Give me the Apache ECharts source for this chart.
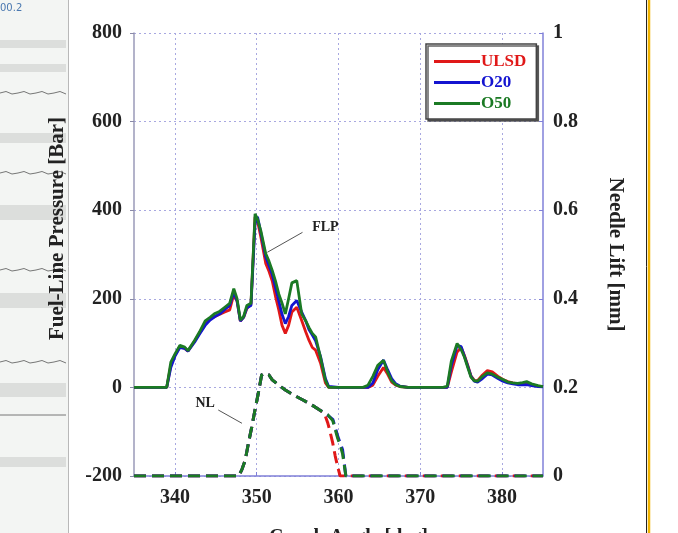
<!DOCTYPE html>
<html>
<head>
<meta charset="utf-8">
<script src="https://cdn.jsdelivr.net/npm/echarts@6/dist/echarts.min.js"></script>
<style>
html,body{margin:0;padding:0;background:#fff;}
#chart{width:678px;height:533px;}
</style>
</head>
<body>
<div id="chart"></div>
<script>
// ---- data ----
var xTicks = [340, 350, 360, 370, 380];
var seriesNames = ['ULSD', 'O20', 'O50'];
var seriesColors = ['#e01818', '#1414d0', '#1b7a24'];

var flpAngle = [335, 339, 339.5, 340, 340.6, 341.2, 341.6, 342.4, 343, 343.7, 344.3, 344.9, 345.5, 346.1, 346.7, 347.2, 347.6, 348.0, 348.4, 348.8, 349.3, 349.8, 350.1, 350.5, 351.1, 351.5, 351.9, 352.3, 352.7, 353.1, 353.5, 353.9, 354.3, 354.9, 355.5, 356.0, 356.4, 356.8, 357.2, 357.8, 358.4, 358.8, 360, 363, 363.6, 364.2, 364.8, 365.5, 366.0, 366.5, 367.0, 367.5, 368.5, 372.8, 373.3, 373.8, 374.5, 375.0, 375.4, 375.8, 376.2, 376.6, 377.0, 377.6, 378.2, 378.8, 379.5, 380.1, 380.7, 381.3, 381.9, 382.5, 383.0, 383.6, 384.4, 385];

var flpULSD = [0, 0, 50, 72, 92, 88, 82, 104, 122, 146, 155, 160, 165, 170, 175, 210, 195, 150, 158, 178, 188, 385, 375, 340, 280, 262, 240, 205, 175, 140, 122, 140, 170, 181, 151, 125, 106, 90, 84, 55, 10, 0, 0, 0, 0, 5, 25, 45, 30, 12, 5, 2, 0, 0, 0, 35, 80, 90, 72, 50, 26, 16, 15, 28, 38, 35, 25, 18, 13, 10, 8, 9, 9, 6, 3, 2];
var flpO20 = [0, 0, 45, 70, 90, 88, 82, 102, 120, 140, 152, 160, 166, 176, 185, 215, 195, 150, 158, 180, 185, 370, 385, 350, 295, 275, 255, 225, 195, 165, 144, 160, 185, 196, 170, 150, 130, 118, 105, 70, 20, 2, 0, 0, 0, 10, 40, 62, 40, 20, 8, 3, 0, 0, 0, 50, 95, 92, 70, 48, 25, 14, 12, 20, 30, 28, 20, 14, 10, 8, 6, 6, 6, 4, 2, 1];
var flpO50 = [0, 0, 57, 75, 95, 91, 83, 106, 125, 150, 158, 167, 172, 181, 190, 223, 200, 152, 160, 185, 190, 392, 380, 354, 302, 285, 264, 240, 211, 190, 166, 200, 236, 241, 166, 150, 135, 122, 114, 68, 16, 0, 0, 0, 5, 25, 50, 61, 35, 15, 6, 2, 0, 0, 3, 60, 99, 85, 68, 45, 23, 15, 14, 25, 33, 30, 23, 18, 12, 10, 9, 11, 13, 8, 4, 2];

var nlAngle = [335, 347.8, 348.2, 348.6, 349.0, 349.4, 349.8, 350.2, 350.6, 350.9, 351.1, 351.5, 351.9, 352.7, 353.5, 354.5, 355.6, 356.6, 357.7, 358.3, 358.7, 358.9, 359.3, 359.6, 359.9, 360.2, 360.5, 360.9, 385];
var nlULSD = [0, 0, 0.015, 0.036, 0.075, 0.111, 0.15, 0.187, 0.228, 0.232, 0.235, 0.228, 0.217, 0.205, 0.194, 0.183, 0.172, 0.162, 0.149, 0.14, 0.119, 0.105, 0.074, 0.045, 0.021, 0, 0, 0, 0];
var nlO20 = [0, 0, 0.015, 0.036, 0.075, 0.111, 0.15, 0.187, 0.228, 0.232, 0.235, 0.228, 0.217, 0.205, 0.194, 0.183, 0.172, 0.162, 0.149, 0.142, 0.137, 0.134, 0.128, 0.11, 0.09, 0.075, 0.059, 0, 0];
var nlO50 = [0, 0, 0.015, 0.036, 0.075, 0.111, 0.15, 0.187, 0.228, 0.232, 0.235, 0.228, 0.217, 0.205, 0.194, 0.183, 0.172, 0.162, 0.149, 0.142, 0.138, 0.134, 0.125, 0.105, 0.085, 0.07, 0.05, 0, 0];

// annotation anchors (data units)
var flpLeader = [[355.6, 350], [351.3, 305]];
var flpText = [358.4, 361];
var nlLeader = [[345.3, 0.149], [348.2, 0.119]];
var nlText = [343.7, 0.163];

function pairs(xs, ys) { return xs.map(function (x, i) { return [x, ys[i]]; }); }

var FONT = '"Liberation Serif", "DejaVu Serif", serif';
var AXIS_COLOR = '#8080d8';
var GRID_COLOR = '#a8a8e0';

var flpData = [flpULSD, flpO20, flpO50];
var nlData = [nlULSD, nlO20, nlO50];

var series = [];
flpData.forEach(function (vals, i) {
  var s = {
    name: seriesNames[i], type: 'line', xAxisIndex: 0, yAxisIndex: 0,
    data: pairs(flpAngle, vals), showSymbol: false, symbol: 'none',
    lineStyle: { color: seriesColors[i], width: 2.8 }, itemStyle: { color: seriesColors[i] },
    z: 3 + i
  };
  if (i === 2) {
    s.markLine = {
      silent: true, symbol: ['none', 'none'], animation: false,
      lineStyle: { color: '#555', width: 1, type: 'solid' }, label: { show: false },
      data: [[{ coord: flpLeader[0] }, { coord: flpLeader[1] }]]
    };
    s.markPoint = {
      silent: true, symbol: 'circle', symbolSize: 0, animation: false,
      label: { show: true, formatter: 'FLP', color: '#222', fontFamily: FONT, fontWeight: 'bold', fontSize: 14 },
      data: [{ coord: flpText }]
    };
  }
  series.push(s);
});
nlData.forEach(function (vals, i) {
  var s = {
    name: seriesNames[i] + ' NL', type: 'line', xAxisIndex: 0, yAxisIndex: 1,
    data: pairs(nlAngle, vals), showSymbol: false, symbol: 'none',
    lineStyle: { color: seriesColors[i], width: 3, type: [12, 6] }, itemStyle: { color: seriesColors[i] },
    z: 3 + i
  };
  if (i === 2) {
    s.markLine = {
      silent: true, symbol: ['none', 'none'], animation: false,
      lineStyle: { color: '#555', width: 1, type: 'solid' }, label: { show: false },
      data: [[{ coord: nlLeader[0] }, { coord: nlLeader[1] }]]
    };
    s.markPoint = {
      silent: true, symbol: 'circle', symbolSize: 0, animation: false,
      label: { show: true, formatter: 'NL', color: '#222', fontFamily: FONT, fontWeight: 'bold', fontSize: 14 },
      data: [{ coord: nlText }]
    };
  }
  series.push(s);
});

var chart = echarts.init(document.getElementById('chart'), null, { renderer: 'canvas' });

// decorative screenshot surroundings
var bands = [[40, 8], [64, 8], [133, 10], [205, 15], [293, 15], [383, 14], [457, 10]];
var graphics = [
  { type: 'rect', left: 0, top: 0, shape: { width: 68, height: 533 }, style: { fill: '#f3f5f3' }, silent: true, z: -10 },
  { type: 'line', shape: { x1: 68.5, y1: 0, x2: 68.5, y2: 533 }, style: { stroke: '#b8b8b8', lineWidth: 1 }, silent: true, z: -9 },
  { type: 'text', left: 0, top: 3, style: { text: '00.2', fill: '#4a78b0', font: '10px "DejaVu Sans"' }, silent: true },
  { type: 'line', shape: { x1: 646.5, y1: 0, x2: 646.5, y2: 533 }, style: { stroke: '#222', lineWidth: 1 }, silent: true },
  { type: 'line', shape: { x1: 649, y1: 0, x2: 649, y2: 533 }, style: { stroke: '#f2b400', lineWidth: 2.5 }, silent: true }
];
bands.forEach(function (b) {
  graphics.push({ type: 'rect', shape: { x: 0, y: b[0], width: 66, height: b[1] }, style: { fill: '#dcdedc' }, silent: true, z: -8 });
});
[[93, 1], [173, 1], [270, 1], [362, 1]].forEach(function (w) {
  var pts = [];
  for (var k = 0; k <= 11; k++) { pts.push([k * 6, w[0] + ((k % 3 === 1) ? -1.5 : (k % 3 === 2 ? 1 : 0))]); }
  graphics.push({ type: 'polyline', shape: { points: pts }, style: { stroke: '#555', lineWidth: 0.8, fill: null }, silent: true, z: -7 });
});
graphics.push({ type: 'line', shape: { x1: 0, y1: 415, x2: 66, y2: 415 }, style: { stroke: '#555', lineWidth: 0.8 }, silent: true, z: -7 });

var option = {
  animation: false,
  backgroundColor: '#ffffff',
  graphic: graphics,
  grid: { left: 134, right: 135, top: 33, bottom: 57, show: false, containLabel: false, outerBoundsMode: 'none' },
  legend: {
    data: seriesNames.map(function (n, i) { return { name: n, textStyle: { color: seriesColors[i] } }; }),
    orient: 'vertical', left: 426, top: 44,
    icon: 'rect', itemWidth: 46, itemHeight: 3, itemGap: 4,
    padding: [9, 10, 7, 8],
    backgroundColor: '#fff', borderColor: '#444', borderWidth: 1.5, borderRadius: 0,
    shadowColor: 'rgba(60,60,60,0.8)', shadowBlur: 0, shadowOffsetX: 2, shadowOffsetY: 2,
    textStyle: { fontFamily: FONT, fontWeight: 'bold', fontSize: 17, padding: [0, 0, 0, -4] },
    selectedMode: false
  },
  xAxis: {
    type: 'value', min: 335, max: 385,
    name: 'Crank Angle [deg]', nameLocation: 'middle', nameGap: 52,
    nameTextStyle: { fontFamily: FONT, fontWeight: 'bold', fontSize: 20, color: '#222', padding: [0, 0, 0, 20] },
    axisLine: { show: true, onZero: false, lineStyle: { color: AXIS_COLOR, width: 1.5 } },
    axisTick: { show: true, inside: true, length: 4, customValues: xTicks, lineStyle: { color: AXIS_COLOR } },
    axisLabel: { customValues: xTicks, margin: 12, fontFamily: FONT, fontWeight: 'bold', fontSize: 20, color: '#222' },
    splitLine: { show: true, lineStyle: { color: GRID_COLOR, type: [2, 3], width: 1 } }
  },
  yAxis: [
    {
      type: 'value', min: -200, max: 800, interval: 200, position: 'left',
      name: 'Fuel-Line Pressure [Bar]', nameLocation: 'middle', nameGap: 66, nameRotate: 90,
      nameTextStyle: { fontFamily: FONT, fontWeight: 'bold', fontSize: 21, color: '#222', padding: [0, 0, 0, 52] },
      axisLine: { show: true, lineStyle: { color: '#9a9ab8', width: 1.5 } },
      axisTick: { show: true, inside: false, length: 4, lineStyle: { color: '#8a8aa8' } },
      axisLabel: { margin: 12, fontFamily: FONT, fontWeight: 'bold', fontSize: 20, color: '#222' },
      splitLine: { show: true, lineStyle: { color: GRID_COLOR, type: [2, 3], width: 1 } }
    },
    {
      type: 'value', min: 0, max: 1, interval: 0.2, position: 'right',
      name: 'Needle Lift [mm]', nameLocation: 'middle', nameGap: 62, nameRotate: -90,
      nameTextStyle: { fontFamily: FONT, fontWeight: 'bold', fontSize: 21, color: '#222' },
      axisLine: { show: true, lineStyle: { color: AXIS_COLOR, width: 1.5 } },
      axisTick: { show: true, inside: true, length: 4, lineStyle: { color: AXIS_COLOR } },
      axisLabel: { margin: 10, fontFamily: FONT, fontWeight: 'bold', fontSize: 20, color: '#222',
        formatter: function (v) { return String(Math.round(v * 10) / 10); } },
      splitLine: { show: false }
    }
  ],
  series: series
};
chart.setOption(option);
</script>
</body>
</html>
